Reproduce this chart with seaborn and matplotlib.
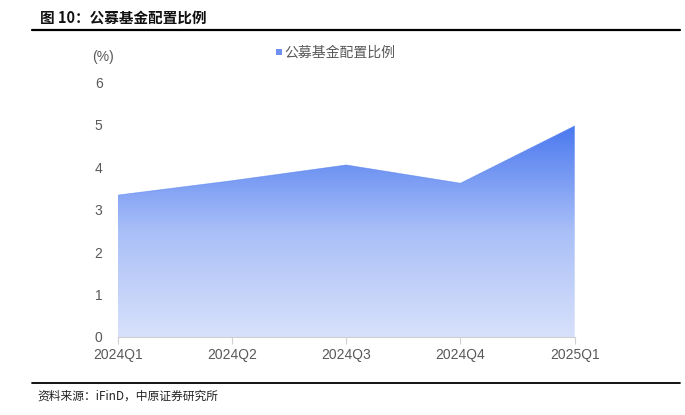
import numpy as np
import pandas as pd
import matplotlib
matplotlib.use("Agg")
import matplotlib.pyplot as plt
import seaborn as sns
from matplotlib.colors import LinearSegmentedColormap
from matplotlib.patches import Rectangle
from matplotlib.lines import Line2D

quarters = ["2024Q1", "2024Q2", "2024Q3", "2024Q4", "2025Q1"]
ratio = [3.34, 3.68, 4.05, 3.62, 4.97]
series_name = "公募基金配置比例"

df = pd.DataFrame({"quarter": quarters, "ratio": ratio})
df["pos"] = np.arange(len(df))

sns.set_style("white")
plt.rcParams["font.family"] = ["Liberation Sans", "Noto Sans CJK SC", "DejaVu Sans"]

fig = plt.figure(figsize=(6.85, 4.15), dpi=100)
ax = fig.add_axes([0.172, 0.188, 0.667, 0.614])

# area with vertical gradient
cmap = LinearSegmentedColormap.from_list("blu", ["#d8e1fb", "#a9bff7", "#4a78ef"])
poly = ax.fill_between(df["pos"], df["ratio"], 0, color="none", lw=0)
grad = np.linspace(0, 1, 256).reshape(-1, 1)
top = max(ratio)
img = ax.imshow(grad, cmap=cmap, aspect="auto", origin="lower",
                extent=[0, len(df) - 1, 0, top], zorder=1)
img.set_clip_path(poly.get_paths()[0], transform=ax.transData)
sns.lineplot(data=df, x="pos", y="ratio", ax=ax, color="#4a78ef", lw=0.6, alpha=0.5, zorder=2)

ax.set_xlim(0, len(df) - 1)
ax.set_ylim(0, 6)
ax.set_xticks(df["pos"])
ax.set_xticklabels(quarters)
ax.set_yticks(range(7))
ax.set_xlabel("")
ax.set_ylabel("")
for s in ["top", "right", "left"]:
    ax.spines[s].set_visible(False)
ax.spines["bottom"].set_color("#d0d0d0")
ax.spines["bottom"].set_linewidth(0.8)
ax.tick_params(axis="x", length=5, color="#d0d0d0", width=0.8, labelsize=10,
               labelcolor="#595959", pad=3, direction="out", bottom=True)
ax.tick_params(axis="y", length=0, labelsize=10, labelcolor="#595959", pad=11)

# unit label and legend
fig.text(0.135, 0.862, "(%)", fontsize=10, color="#595959", ha="left", va="center")
fig.patches.append(Rectangle((0.4035, 0.868), 0.0085, 0.014, transform=fig.transFigure,
                             facecolor="#6f8ff0", edgecolor="none"))
fig.text(0.415, 0.872, series_name, fontsize=10, color="#595959", ha="left", va="center",
         family=["Noto Sans CJK SC"])

# title and source
fig.text(0.058, 0.958, "图 10：公募基金配置比例", fontsize=10.5, fontweight="bold",
         color="#111111", ha="left", va="center", family=["Noto Sans CJK SC", "DejaVu Sans"])
fig.add_artist(Line2D([0.047, 0.993], [0.928, 0.928], transform=fig.transFigure,
                      color="black", lw=1.6))
fig.add_artist(Line2D([0.047, 0.993], [0.077, 0.077], transform=fig.transFigure,
                      color="black", lw=1.3))
fig.text(0.055, 0.045, "资料来源：iFinD，中原证券研究所", fontsize=8.5, color="#222222",
         ha="left", va="center", family=["Noto Sans CJK SC", "DejaVu Sans"])

fig.savefig("out.png", dpi=100)
